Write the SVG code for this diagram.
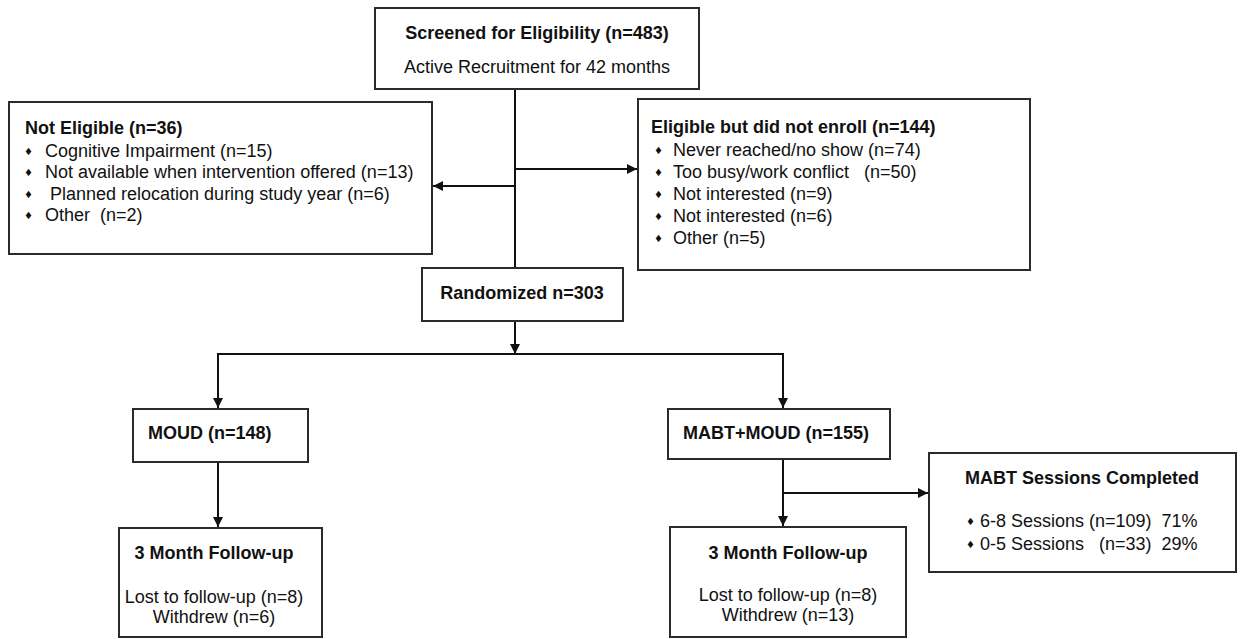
<svg xmlns="http://www.w3.org/2000/svg" width="1243" height="639" viewBox="0 0 1243 639">
<style>
.box{fill:#fff;stroke:#2b2b2b;stroke-width:2}
.ln{fill:none;stroke:#111;stroke-width:2}
text{font-family:"Liberation Sans",Arial,Helvetica,sans-serif;font-size:18px;fill:#111;white-space:pre}
.b{font-weight:bold}
.m{text-anchor:middle}
.bul{font-family:"DejaVu Sans",sans-serif;font-size:10px}
</style>
<defs>
<marker id="ah" markerUnits="userSpaceOnUse" markerWidth="12" markerHeight="12" refX="10" refY="5" orient="auto">
<path d="M0,0 L10,5 L0,10 Z" fill="#111"/>
</marker>
</defs>
<rect width="1243" height="639" fill="#fff"/>
<g id="connectors">
<line class="ln" x1="515" y1="89" x2="515" y2="268"/>
<line class="ln" x1="515" y1="186" x2="433" y2="186" marker-end="url(#ah)"/>
<line class="ln" x1="515" y1="169" x2="637" y2="169" marker-end="url(#ah)"/>
<line class="ln" x1="515" y1="321" x2="515" y2="354" marker-end="url(#ah)"/>
<line class="ln" x1="217" y1="354" x2="784" y2="354"/>
<line class="ln" x1="218" y1="354" x2="218" y2="408" marker-end="url(#ah)"/>
<line class="ln" x1="783" y1="354" x2="783" y2="408" marker-end="url(#ah)"/>
<line class="ln" x1="218" y1="462" x2="218" y2="527" marker-end="url(#ah)"/>
<line class="ln" x1="783" y1="459" x2="783" y2="526" marker-end="url(#ah)"/>
<line class="ln" x1="783" y1="493" x2="928" y2="493" marker-end="url(#ah)"/>
</g>
<g id="screened">
<rect class="box" x="375" y="8" width="324" height="81"/>
<text class="b m" x="537" y="39">Screened for Eligibility (n=483)</text>
<text class="m" x="537" y="73">Active Recruitment for 42 months</text>
</g>
<g id="not-eligible">
<rect class="box" x="9" y="102" width="423" height="152"/>
<text class="b" x="25" y="134">Not Eligible (n=36)</text>
<text class="bul" x="24" y="155">♦</text><text x="45" y="157">Cognitive Impairment (n=15)</text>
<text class="bul" x="24" y="176">♦</text><text x="45" y="178">Not available when intervention offered (n=13)</text>
<text class="bul" x="24" y="198">♦</text><text x="45" y="200"> Planned relocation during study year (n=6)</text>
<text class="bul" x="24" y="219">♦</text><text x="45" y="221">Other  (n=2)</text>
</g>
<g id="eligible-not-enrolled">
<rect class="box" x="638" y="99" width="392" height="171"/>
<text class="b" x="651" y="133">Eligible but did not enroll (n=144)</text>
<text class="bul" x="654" y="154">♦</text><text x="673" y="156">Never reached/no show (n=74)</text>
<text class="bul" x="654" y="176">♦</text><text x="673" y="178">Too busy/work conflict   (n=50)</text>
<text class="bul" x="654" y="198">♦</text><text x="673" y="200">Not interested (n=9)</text>
<text class="bul" x="654" y="220">♦</text><text x="673" y="222">Not interested (n=6)</text>
<text class="bul" x="654" y="242">♦</text><text x="673" y="244">Other (n=5)</text>
</g>
<g id="randomized">
<rect class="box" x="422" y="268" width="201" height="53"/>
<text class="b m" x="522" y="299">Randomized n=303</text>
</g>
<g id="moud">
<rect class="box" x="133" y="409" width="175" height="53"/>
<text class="b" x="148" y="439">MOUD (n=148)</text>
</g>
<g id="mabt-moud">
<rect class="box" x="668" y="409" width="222" height="50"/>
<text class="b" x="683" y="439">MABT+MOUD (n=155)</text>
</g>
<g id="followup-moud">
<rect class="box" x="119" y="528" width="203" height="109"/>
<text class="b m" x="214" y="559">3 Month Follow-up</text>
<text class="m" x="214" y="603">Lost to follow-up (n=8)</text>
<text class="m" x="214" y="623">Withdrew (n=6)</text>
</g>
<g id="followup-mabt">
<rect class="box" x="670" y="527" width="236" height="110"/>
<text class="b m" x="788" y="559">3 Month Follow-up</text>
<text class="m" x="788" y="601">Lost to follow-up (n=8)</text>
<text class="m" x="788" y="621">Withdrew (n=13)</text>
</g>
<g id="mabt-sessions">
<rect class="box" x="929" y="453" width="307" height="119"/>
<text class="b m" x="1082" y="484">MABT Sessions Completed</text>
<text class="bul" x="966" y="525">♦</text><text x="980" y="527">6-8 Sessions (n=109)  71%</text>
<text class="bul" x="966" y="548">♦</text><text x="980" y="550">0-5 Sessions   (n=33)  29%</text>
</g>
</svg>
